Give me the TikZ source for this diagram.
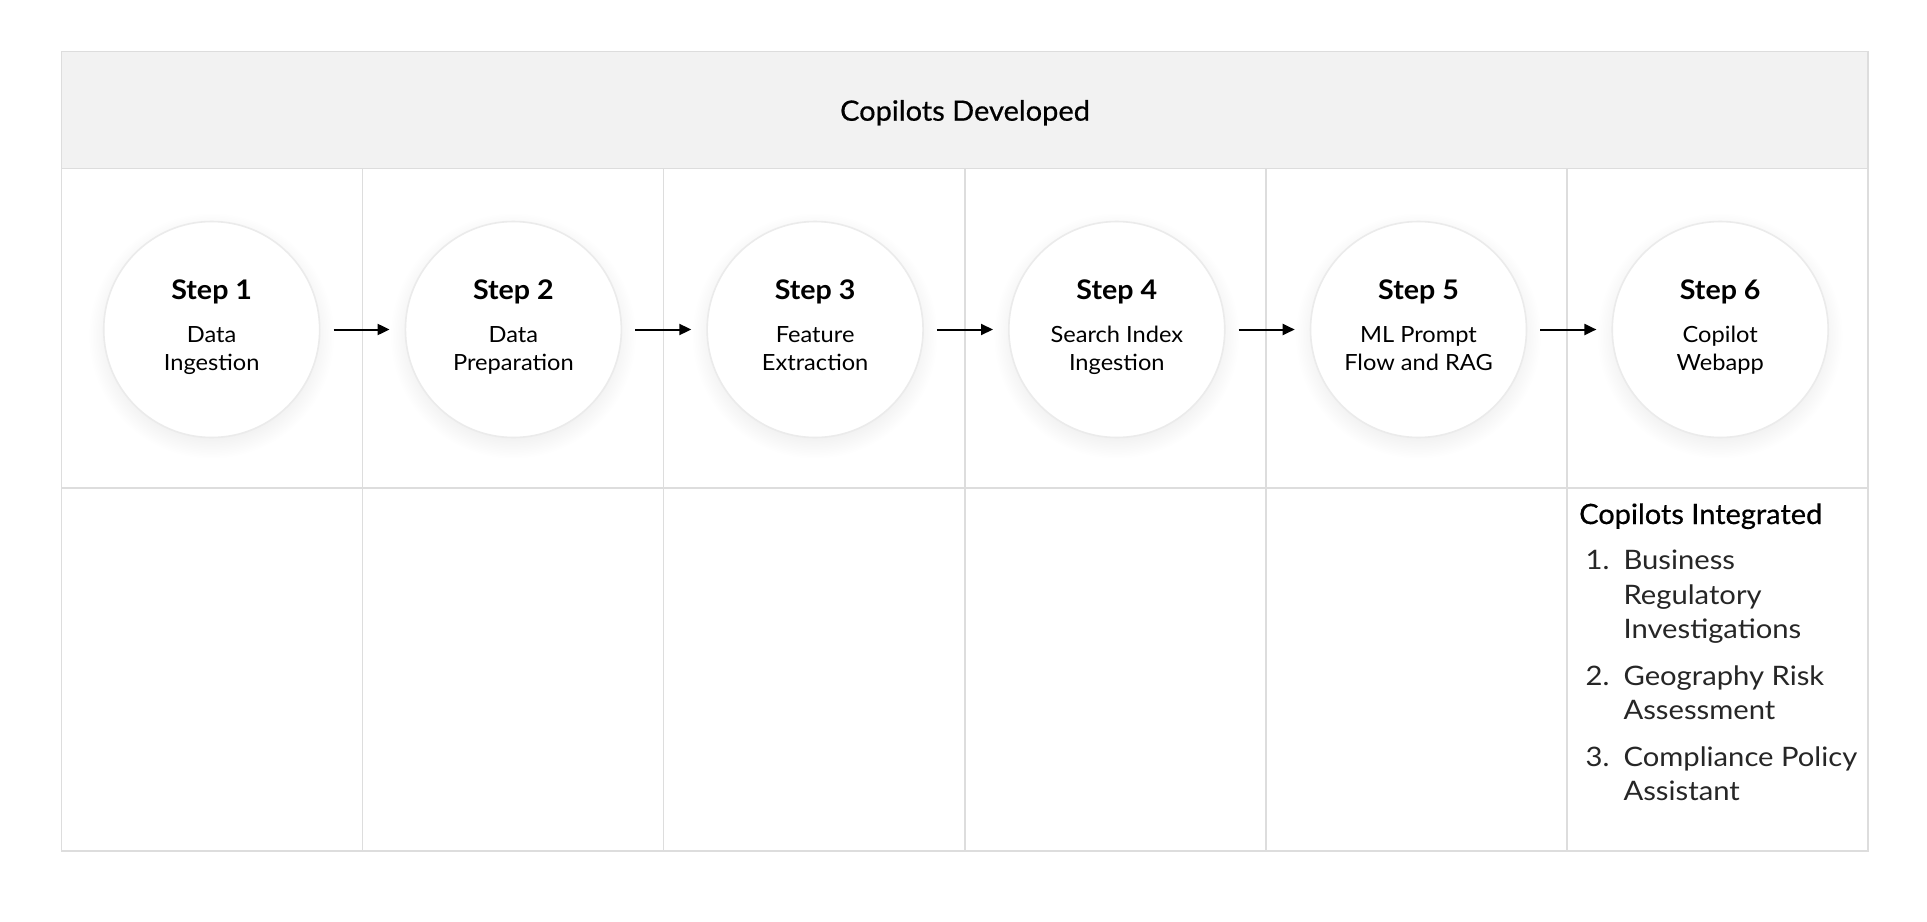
\documentclass[tikz,border=0pt]{standalone}
\usepackage{fontspec}
\setmainfont[FakeStretch=1.06]{Lato}
\newfontfamily\medfont[FakeBold=0.6,FakeStretch=1.035]{Lato}
\newfontfamily\listfont[FakeStretch=1.09]{Lato}
\usetikzlibrary{arrows.meta}
\definecolor{gridline}{HTML}{DDDDDD}
\definecolor{headfill}{HTML}{F2F2F2}
\definecolor{ringline}{HTML}{EBEBEB}
\definecolor{listtext}{HTML}{262626}
\tikzset{
  gridstroke/.style={draw=gridline, line width=1.4pt},
  stepcircle/.style={circle, draw=ringline, line width=1.6pt, fill=white, minimum size=216pt, inner sep=0pt},
  steptitle/.style={anchor=base, font=\fontsize{27}{32}\selectfont\bfseries, text=black},
  steptext/.style={anchor=base, font=\fontsize{22.3}{27}\selectfont, text=black},
  flowarrow/.style={line width=2pt, -{Triangle[length=12pt,width=11pt]}},
  headtext/.style={font=\fontsize{28}{34}\selectfont\medfont, text=black},
  listnum/.style={anchor=base east, font=\fontsize{26.8}{35}\selectfont\listfont, text=listtext},
  listline/.style={anchor=base west, font=\fontsize{26.8}{35}\selectfont\listfont, text=listtext},
}
\begin{document}
\begin{tikzpicture}[x=1pt,y=-1pt]
\useasboundingbox (0,0) rectangle (1927,921);
\fill[white] (0,0) rectangle (1927,921);
% header band
\fill[headfill] (61.5,51.6) rectangle (1868,168.4);
% grid
\draw[gridstroke] (61.5,51.6) rectangle (1868,851);
\draw[gridstroke] (61.5,168.4) -- (1868,168.4);
\draw[gridstroke] (61.5,488) -- (1868,488);
\foreach \k in {1,...,5} {
  \draw[gridstroke] ({61.5+301.1*\k},168.4) -- ({61.5+301.1*\k},851);
}
\node[headtext, anchor=base] (hdr) at (965,120.7) {Copilots Developed};
% steps
\foreach \i/\ta/\tb in {1/Data/Ingestion,2/Data/Preparation,3/Feature/Extraction,4/Search Index/Ingestion,5/ML Prompt/Flow and RAG,6/Copilot/Webapp} {
  \pgfmathsetmacro{\cx}{211.7+301.7*(\i-1)}
  \foreach \r in {1,...,14} {
    \fill[black, opacity=0.0035] (\cx,336) circle ({100+\r*1.6});
  }
  \node[stepcircle] (s\i) at (\cx,329.5) {};
  \node[steptitle] (t\i) at ([yshift=30.2pt]s\i.center) {Step \i};
  \node[steptext] (a\i) at ([yshift=-13.2pt]s\i.center) {\ta};
  \node[steptext] (b\i) at ([yshift=-40.5pt]s\i.center) {\tb};
}
\foreach \i [evaluate=\i as \j using int(\i+1)] in {1,...,5} {
  \draw[flowarrow] ([xshift=13pt]s\i.east) -- ([xshift=-15pt]s\j.west);
}
% integrated list
\node[headtext, anchor=base west] (ci) at (1575.7,524) {Copilots Integrated};
\node[listnum] (n1) at (1613,569) {1.};
\node[listline] (l1a) at (1620,569) {Business};
\node[listline] (l1b) at (1620,604.3) {Regulatory};
\node[listline] (l1c) at (1620,638.3) {Investigations};
\node[listnum] (n2) at (1613,685) {2.};
\node[listline] (l2a) at (1620,685) {Geography Risk};
\node[listline] (l2b) at (1620,719.3) {Assessment};
\node[listnum] (n3) at (1613,766) {3.};
\node[listline] (l3a) at (1620,766) {Compliance Policy};
\node[listline] (l3b) at (1620,800.7) {Assistant};
\end{tikzpicture}
\end{document}
